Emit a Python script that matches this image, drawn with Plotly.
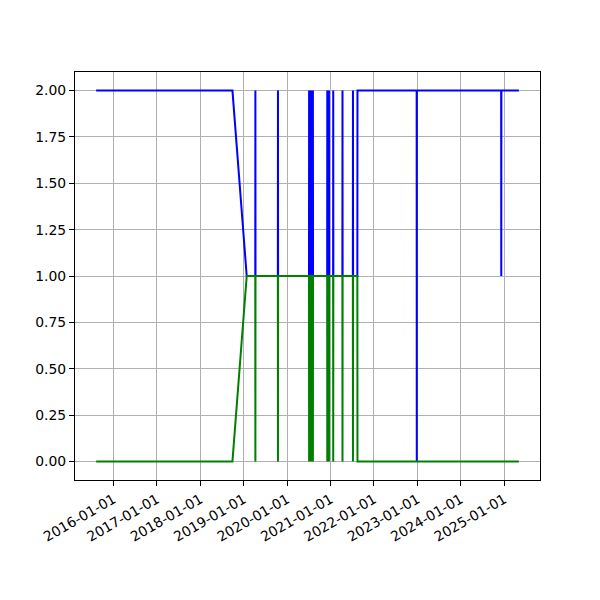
import plotly.graph_objects as go
import pandas as pd

# ---- data ----
blue_dates = [
    "2015-08-08", "2018-09-28", "2019-01-26",
    "2019-04-08", "2019-04-09", "2019-04-10",
    "2019-10-15", "2019-10-16", "2019-10-17",
    "2020-07-03", "2020-07-04", "2020-07-05",
    "2020-07-14", "2020-07-15", "2020-07-16",
    "2020-07-25", "2020-07-26", "2020-07-27",
    "2020-08-04", "2020-08-05", "2020-08-06",
    "2020-12-03", "2020-12-04", "2020-12-05",
    "2020-12-17", "2020-12-18", "2020-12-19",
    "2021-01-22", "2021-01-23", "2021-01-24",
    "2021-04-10", "2021-04-11", "2021-04-12",
    "2021-07-07", "2021-07-08", "2021-07-09",
    "2021-08-14", "2021-08-15",
    "2022-12-26", "2022-12-27", "2022-12-28",
    "2024-12-06", "2024-12-07", "2024-12-08",
    "2025-05-04",
]
blue_values = [
    2, 2, 1,
    1, 2, 1,
    1, 2, 1,
    1, 2, 1,
    1, 2, 1,
    1, 2, 1,
    1, 2, 1,
    1, 2, 1,
    1, 2, 1,
    1, 2, 1,
    1, 2, 1,
    1, 2, 1,
    1, 2,
    2, 0, 2,
    2, 1, 2,
    2,
]
green_values = [
    0, 0, 1,
    1, 0, 1,
    1, 0, 1,
    1, 0, 1,
    1, 0, 1,
    1, 0, 1,
    1, 0, 1,
    1, 0, 1,
    1, 0, 1,
    1, 0, 1,
    1, 0, 1,
    1, 0, 1,
    1, 0,
    0, 0, 0,
    0, 0, 0,
    0,
]

x_tick_vals = ["2016-01-01", "2017-01-01", "2018-01-01", "2019-01-01", "2020-01-01",
               "2021-01-01", "2022-01-01", "2023-01-01", "2024-01-01", "2025-01-01"]
y_tick_vals = [0.0, 0.25, 0.5, 0.75, 1.0, 1.25, 1.5, 1.75, 2.0]

# ---- figure ----
dts = pd.to_datetime(blue_dates)
span = dts.max() - dts.min()
x_range = [dts.min() - span * 0.05, dts.max() + span * 0.05]

fig = go.Figure()
fig.add_trace(go.Scatter(x=blue_dates, y=blue_values, mode="lines",
                         line=dict(color="#0000ff", width=2), showlegend=False))
fig.add_trace(go.Scatter(x=blue_dates, y=green_values, mode="lines",
                         line=dict(color="#008000", width=2), showlegend=False))

font = dict(family="DejaVu Sans", size=13.9, color="black")
fig.update_layout(
    width=600, height=600,
    margin=dict(l=67, r=68, t=64, b=128),
    paper_bgcolor="white", plot_bgcolor="white",
    font=font,
)
fig.update_xaxes(
    type="date", range=x_range,
    tickmode="array", tickvals=x_tick_vals, ticktext=x_tick_vals,
    tickangle=-30,
    showgrid=True, gridcolor="#b0b0b0", gridwidth=1,
    showline=True, linecolor="black", linewidth=1, mirror=True,
    ticks="outside", ticklen=5, tickcolor="black", tickwidth=1,
    zeroline=False,
)
fig.update_yaxes(
    range=[-0.1, 2.1],
    tickmode="array", tickvals=y_tick_vals, tickformat=".2f",
    showgrid=True, gridcolor="#b0b0b0", gridwidth=1,
    showline=True, linecolor="black", linewidth=1, mirror=True,
    ticks="outside", ticklen=5, tickcolor="black", tickwidth=1,
    zeroline=False,
)

fig.write_html("out.html")
